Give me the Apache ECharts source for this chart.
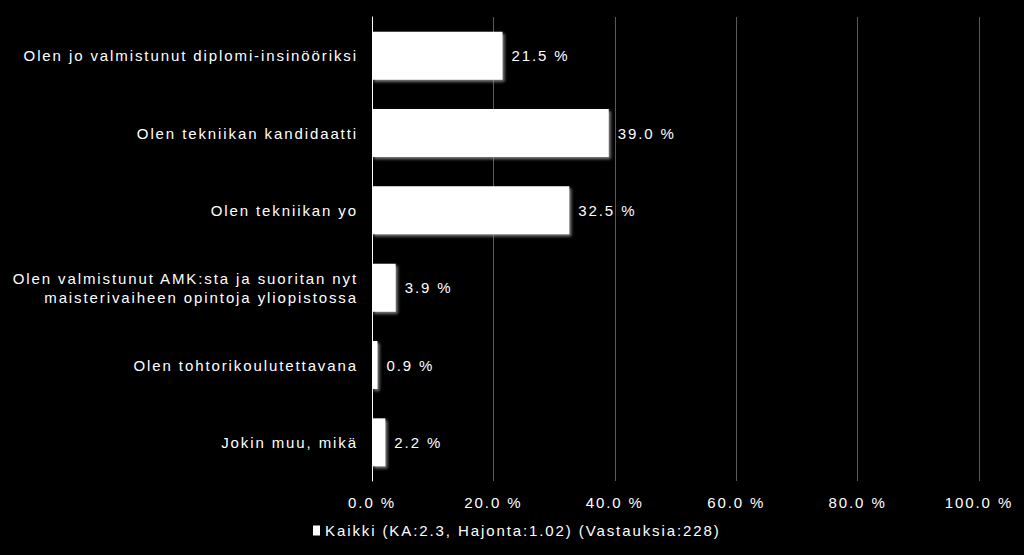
<!DOCTYPE html>
<html><head><meta charset="utf-8">
<script src="https://cdn.jsdelivr.net/npm/echarts@6/dist/echarts.min.js"></script>
<style>html,body{margin:0;padding:0;background:#000;}#c{width:1024px;height:555px;}
#c svg text{letter-spacing:1.9px;}</style>
</head><body><div id="c"></div>
<script>
const categories = [
  "Olen jo valmistunut diplomi-insinööriksi",
  "Olen tekniikan kandidaatti",
  "Olen tekniikan yo",
  "Olen valmistunut AMK:sta ja suoritan nyt\nmaisterivaiheen opintoja yliopistossa",
  "Olen tohtorikoulutettavana",
  "Jokin muu, mikä"
];
const values = [21.5, 39.0, 32.5, 3.9, 0.9, 2.2];
const seriesName = "Kaikki (KA:2.3, Hajonta:1.02) (Vastauksia:228)";
const xTicks = [0, 20, 40, 60, 80, 100];

const font = "Liberation Sans";
const chart = echarts.init(document.getElementById('c'), null, {renderer: 'svg'});
chart.setOption({
  backgroundColor: '#000',
  animation: false,
  grid: {left: 372, right: 45, top: 17, bottom: 74, containLabel: false},
  legend: {
    data: [seriesName], bottom: 12, left: 308,
    itemWidth: 7, itemHeight: 10, itemGap: 4,
    textStyle: {color: '#fff', fontFamily: font, fontSize: 15},
    icon: 'rect'
  },
  xAxis: {
    type: 'value', min: xTicks[0], max: xTicks[xTicks.length-1], interval: 20,
    axisLine: {show: false}, axisTick: {show: false},
    splitLine: {show: true, lineStyle: {color: '#5a5a5a', width: 1}},
    axisLabel: {color: '#fff', fontFamily: font, fontSize: 15, margin: 14,
      formatter: v => v.toFixed(1) + ' %'}
  },
  yAxis: {
    type: 'category', data: categories, inverse: true,
    axisLine: {show: true, lineStyle: {color: '#fff', width: 1}},
    axisTick: {show: false},
    axisLabel: {color: '#fff', fontFamily: font, fontSize: 15, margin: 14, lineHeight: 19}
  },
  series: [{
    name: seriesName, type: 'bar', data: values, barCategoryGap: '38%',
    itemStyle: {color: '#fff', shadowColor: 'rgba(160,160,160,0.8)', shadowBlur: 3, shadowOffsetX: 2, shadowOffsetY: 2},
    label: {show: true, position: 'right', distance: 9, color: '#fff', fontFamily: font, fontSize: 15,
      formatter: p => p.value.toFixed(1) + ' %'}
  }]
});
</script></body></html>
